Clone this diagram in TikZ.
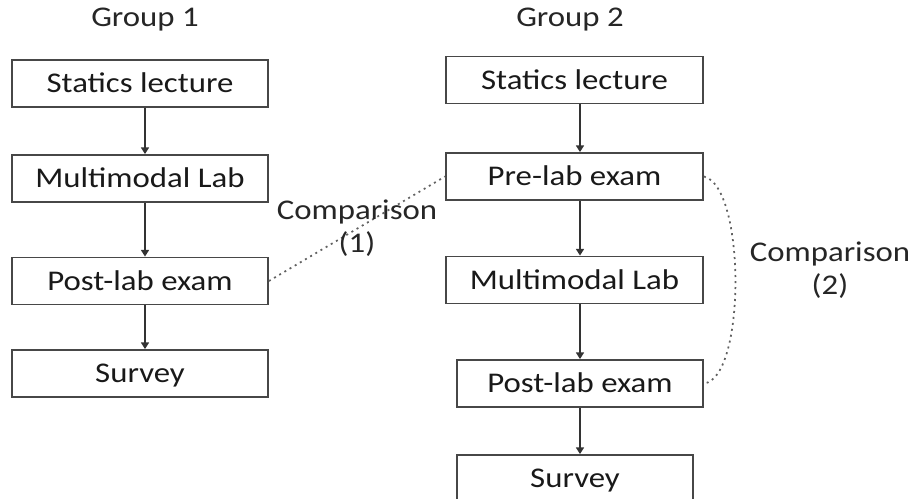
\documentclass[tikz,border=0pt]{standalone}
\usepackage{fontspec}
\setmainfont{Carlito}[FakeStretch=1.15]
\usetikzlibrary{positioning,arrows.meta}

\begin{document}
\begin{tikzpicture}[x=0.75pt,y=-0.75pt]
            \tikzset{
                stage/.style={draw=black!72, line width=1.4pt, minimum height=35.25pt, inner sep=0pt,
                    text height=13.6pt, text depth=0pt, font=\fontsize{21.4}{24.75}\selectfont, text=black!90},
                grouptext/.style={font=\fontsize{21.4}{24.75}\selectfont, text=black!85},
                cmptext/.style={font=\fontsize{21.4}{24.75}\selectfont, text=black!85, align=center},
                flow/.style={draw=black!80, line width=1.1pt, -{Triangle[width=6pt,length=5pt]}},
                compare/.style={draw=black!62, line width=1.3pt, dash pattern=on 1.5pt off 3pt},}
            \useasboundingbox (0,0) rectangle (915,499);
            % group 1
            \node[grouptext, anchor=base] (g1) at (145,27) {Group 1};
            \node[stage, minimum width=192pt] (lec1) at (140,83.5) {Statics lecture};
            \node[stage, minimum width=192pt] (lab1) at (140,178.5) {Multimodal Lab};
            \node[stage, minimum width=192pt] (post1) at (140,281) {Post-lab exam};
            \node[stage, minimum width=192pt] (srv1) at (140,373.5) {Survey};
            % group 2
            \node[grouptext, anchor=base] (g2) at (570,27) {Group 2};
            \node[stage, minimum width=192.75pt] (lec2) at (574.5,80) {Statics lecture};
            \node[stage, minimum width=192.75pt] (pre2) at (574.5,176.5) {Pre-lab exam};
            \node[stage, minimum width=192.75pt] (lab2) at (574.5,280) {Multimodal Lab};
            \node[stage, minimum width=184.5pt] (post2) at (580,383.5) {Post-lab exam};
            \node[stage, minimum width=177pt] (srv2) at (575,478.5) {Survey};
            \coordinate (axis1) at (145,0);
            \coordinate (axis2) at (580,0);
            \foreach \a/\b in {lec1/lab1,lab1/post1,post1/srv1}
                \draw[flow] (\a.south -| axis1) -- (\b.north -| axis1);
            \foreach \a/\b in {lec2/pre2,pre2/lab2,lab2/post2,post2/srv2}
                \draw[flow] (\a.south -| axis2) -- (\b.north -| axis2);
            % comparisons
            \draw[compare] (post1.east) -- (pre2.west);
            \draw[compare] (pre2.east) .. controls +(42,10) and +(42,-5) .. (post2.east);
            \node[cmptext, anchor=base] (cmp1) at (357,253) {Comparison\\(1)};
            \node[cmptext, anchor=base] (cmp2) at (830,295) {Comparison\\(2)};
        \end{tikzpicture}
\end{document}
